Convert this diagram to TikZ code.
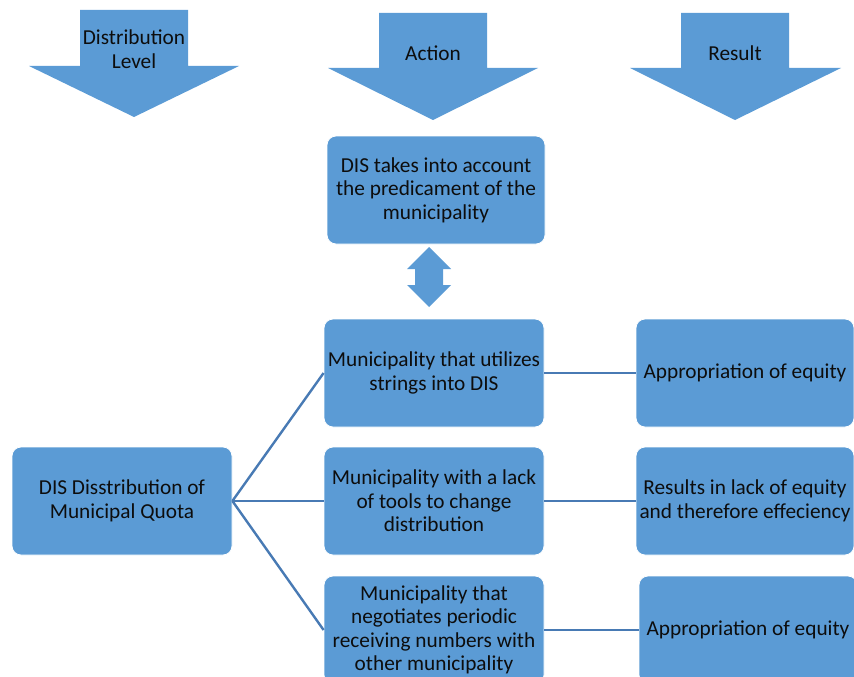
\documentclass[tikz,border=0pt]{standalone}
\usepackage{fontspec}
\setmainfont{Carlito}
\definecolor{boxblue}{RGB}{91,155,213}
\definecolor{lineblue}{RGB}{72,122,180}
\definecolor{txt}{RGB}{13,13,13}
\begin{document}
\begin{tikzpicture}[x=1pt,y=-1pt,
  box/.style={fill=boxblue, draw=white, line width=0.8pt, rounded corners=9pt,
    minimum width=220pt, minimum height=108pt, align=center, inner sep=0pt,
    text=txt, font=\fontsize{21.3}{23.5}\selectfont},
  lbl/.style={align=center, inner sep=0pt, text=txt, font=\fontsize{21.3}{23.5}\selectfont},
  bigarrow/.style={fill=boxblue, draw=none},
  conn/.style={draw=lineblue, line width=2.4pt}]
\useasboundingbox (0,0) rectangle (854,677);
% header arrows
\fill[bigarrow] (80,10) -- (188,10) -- (188,66) -- (239,66) -- (134,117) -- (29,66) -- (80,66) -- cycle;
\fill[bigarrow] (379,13) -- (487,13) -- (487,68) -- (538,68) -- (433,120) -- (328,68) -- (379,68) -- cycle;
\fill[bigarrow] (681,13) -- (789,13) -- (789,68) -- (841,68) -- (735,120) -- (630,68) -- (681,68) -- cycle;
\node[lbl] (h1) at (134,49) {Distribution\\Level};
\node[lbl] (h2) at (433,53) {Action};
\node[lbl] (h3) at (735,53) {Result};
% top box
\node[box, minimum width=218pt] (top) at (436,190) {DIS takes into account\\the predicament of the\\municipality};
% double arrow
\fill[bigarrow] (429,247) -- (451,269) -- (443,269) -- (443,285) -- (451,285) -- (429,307)
  -- (407,285) -- (415,285) -- (415,269) -- (407,269) -- cycle;
% boxes
\node[box] (src) at (122,501) {DIS Disstribution of\\Municipal Quota};
\node[box] (a1) at (434,373) {Municipality that utilizes\\strings into DIS};
\node[box] (a2) at (434,501) {Municipality with a lack\\of tools to change\\distribution};
\node[box] (a3) at (434,630) {Municipality that\\negotiates periodic\\receiving numbers with\\other municipality};
\node[box, minimum width=218pt] (r1) at (745,373) {Appropriation of equity};
\node[box, minimum width=218pt] (r2) at (745,501) {Results in lack of equity\\and therefore effeciency};
\node[box, minimum width=218pt] (r3) at (748,630) {Appropriation of equity};
% connectors
\draw[conn] (src.east) -- (a1.west);
\draw[conn] (src.east) -- (a2.west);
\draw[conn] (src.east) -- (a3.west);
\draw[conn] (a1.east) -- (r1.west);
\draw[conn] (a2.east) -- (r2.west);
\draw[conn] (a3.east) -- (r3.west);
\end{tikzpicture}
\end{document}
